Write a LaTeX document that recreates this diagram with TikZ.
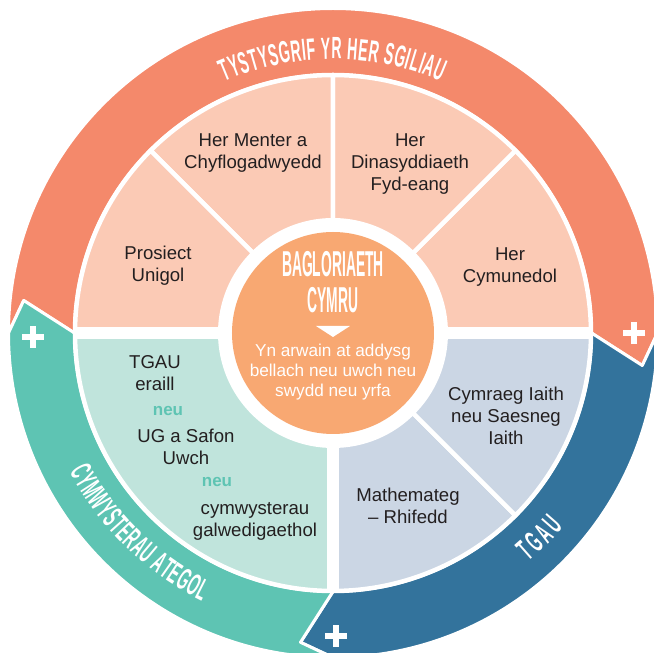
\documentclass[tikz,border=0pt]{standalone}
\usepackage{fontspec}
\setmainfont{Liberation Sans}
\newfontfamily\gothic[FakeStretch=0.385]{Liberation Sans Bold}
\newfontfamily\ringfont[FakeStretch=0.46]{Liberation Sans Bold}
\usetikzlibrary{decorations.text}
\definecolor{ringorange}{HTML}{F4896B}
\definecolor{ringteal}{HTML}{5EC4B3}
\definecolor{ringblue}{HTML}{33739C}
\definecolor{paleorange}{HTML}{FBCAB5}
\definecolor{paleteal}{HTML}{C0E4DC}
\definecolor{paleblue}{HTML}{CBD6E4}
\definecolor{discorange}{HTML}{F8A872}
\definecolor{textdark}{HTML}{231F20}
\begin{document}
\begin{tikzpicture}[x=1pt,y=1pt,
    seg/.style={draw=white, line width=3pt, line join=round},
    slice/.style={draw=white, line width=4.5pt, line join=round},
    lbl/.style={align=center, text=textdark, inner sep=0pt, font=\fontsize{18.6}{22}\selectfont},
    orneu/.style={text=ringteal, inner sep=0pt, font=\bfseries\fontsize{17}{20}\selectfont},
    title/.style={text=white, inner sep=0pt, font=\gothic\fontsize{36}{36}\selectfont},
    disctext/.style={align=center, text=white, inner sep=0pt, font=\fontsize{17.2}{20}\selectfont}]
        \useasboundingbox (-333,-320) rectangle (321,333);
        \clip (-333,-320) rectangle (321,333);
        % outer ring, each part ends in a point
        \foreach \col/\a/\b in {ringorange/180/0, ringblue/360/270, ringteal/270/180}
            \filldraw[seg, fill=\col] (\a:324.5) arc[start angle=\a, end angle=\b, radius=324.5] -- (\b-6:311)
                -- (\b:258.5) arc[start angle=\b, end angle=\a, radius=258.5] -- (\a-6:311) -- cycle;
        \foreach \px/\py in {-300/-4, 301/0, 3/-303}
            \draw[white, line width=5.7pt] (\px-10.8,\py) -- (\px+10.8,\py) (\px,\py-10.8) -- (\px,\py+10.8);
        % ring labels
        \path[decorate, decoration={text along path, text align=fit to path,
            text={|\color{white}\ringfont\fontsize{30.7}{31}\selectfont|TYSTYSGRIF YR HER SGILIAU}}]
            (113.3:274) arc[start angle=113.3, end angle=66.8, radius=274];
        \path[decorate, decoration={text along path, text align=fit to path,
            text={|\color{white}\ringfont\fontsize{30.7}{31}\selectfont|CYMWYSTERAU ATEGOL}}]
            (207.8:298) arc[start angle=207.8, end angle=244, radius=298];
        \path[decorate, decoration={text along path, text align=fit to path,
            text={|\color{white}\ringfont\fontsize{30.7}{31}\selectfont|TGAU}}]
            (310.6:301) arc[start angle=310.6, end angle=319.9, radius=301];
        % inner sectors
        \foreach \col/\a/\b in {paleorange/0/45, paleorange/45/90, paleorange/90/135, paleorange/135/180,
                paleteal/180/270, paleblue/270/315, paleblue/315/360}
            \filldraw[slice, fill=\col] (0,0) -- (\a:258) arc[start angle=\a, end angle=\b, radius=258] -- cycle;
        \draw[white, line width=12pt] (180:258) -- (0:258);
        \draw[white, line width=12pt] (0,0) -- (270:258);
        % centre
        \fill[white] (0,0) circle (115);
        \fill[discorange] (0,0) circle (101);
        \node[title] (bac) at (0,68.5) {BAGLORIAETH};
        \node[title] (cymru) at (0,32.5) {CYMRU};
        \fill[white] (-17,7) -- (17,7) -- (0,-4) -- cycle;
        \node[disctext] (lead) at (0,-39.4) {Yn arwain at addysg\\bellach neu uwch neu\\swydd neu yrfa};
        % sector labels
        \node[lbl] (menter) at (-80,180) {Her Menter a\\Chyflogadwyedd};
        \node[lbl] (dinas) at (77,169) {Her\\Dinasyddiaeth\\Fyd-eang};
        \node[lbl] (prosiect) at (-175,67) {Prosiect\\Unigol};
        \node[lbl] (cymuned) at (177,66) {Her\\Cymunedol};
        \node[lbl] (eraill) at (-178,-40) {TGAU\\eraill};
        \node[orneu] (neua) at (-165,-78) {neu};
        \node[lbl] (safon) at (-147,-114) {UG a Safon\\Uwch};
        \node[orneu] (neub) at (-116,-149) {neu};
        \node[lbl] (galw) at (-78,-188) {cymwysterau\\galwedigaethol};
        \node[lbl] (iaith) at (173,-83) {Cymraeg Iaith\\neu Saesneg\\Iaith};
        \node[lbl] (mathau) at (75,-173) {Mathemateg\\– Rhifedd};
\end{tikzpicture}
\end{document}
